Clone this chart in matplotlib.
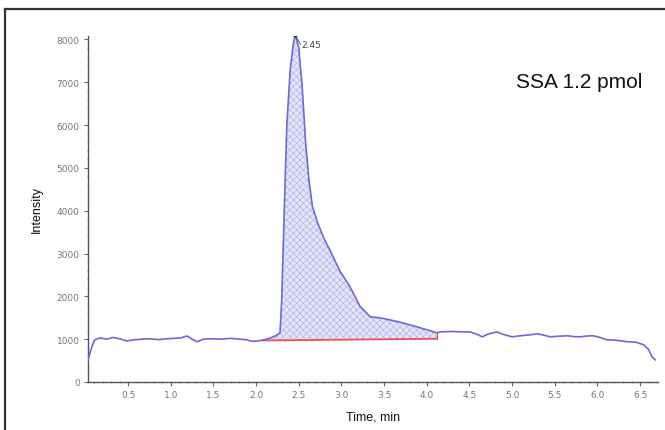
import numpy as np
import matplotlib
matplotlib.use("Agg")
import matplotlib.pyplot as plt
from matplotlib.lines import Line2D
from matplotlib.ticker import MultipleLocator, FixedLocator

# Chromatogram trace (retention time in minutes, signal intensity)
time_min = [0.03, 0.08, 0.11, 0.17, 0.25, 0.32, 0.40, 0.48, 0.55, 0.65, 0.75,
            0.85, 0.95, 1.05, 1.12, 1.19, 1.25, 1.31, 1.38, 1.48, 1.58, 1.70,
            1.80, 1.88, 1.95, 2.02, 2.08, 2.17, 2.23, 2.28, 2.30, 2.33, 2.36,
            2.40, 2.44, 2.46, 2.50, 2.54, 2.58, 2.62, 2.66, 2.72, 2.80, 2.87,
            2.98, 3.10, 3.22, 3.34, 3.45, 3.57, 3.70, 3.80, 3.90, 4.00, 4.08,
            4.12, 4.16, 4.30, 4.40, 4.51, 4.58, 4.65, 4.72, 4.82, 4.90, 5.00,
            5.10, 5.20, 5.30, 5.45, 5.55, 5.65, 5.72, 5.80, 5.88, 5.95, 6.03,
            6.11, 6.20, 6.35, 6.45, 6.54, 6.60, 6.64, 6.68]
intensity = [515, 850, 985, 1030, 1000, 1040, 1010, 960, 980, 1000, 1010,
             990, 1010, 1020, 1030, 1075, 1000, 940, 1000, 1010, 1000, 1020,
             1000, 990, 950, 960, 980, 1030, 1080, 1150, 1900, 4000, 6000,
             7300, 7950, 8100, 7800, 6900, 5600, 4700, 4100, 3720, 3330, 3060,
             2600, 2225, 1760, 1520, 1500, 1450, 1390, 1335, 1280, 1220, 1170,
             1150, 1170, 1180, 1170, 1170, 1120, 1055, 1120, 1170, 1110, 1055,
             1080, 1100, 1125, 1055, 1070, 1080, 1060, 1055, 1075, 1080, 1040,
             985, 980, 940, 930, 870, 760, 585, 515]

# Integration window and its baseline end points
base_t = [2.08, 4.12]
base_i = [970, 1010]

peak_t = 2.46
peak_i = 8100
peak_label = "2.45"

x_ticks = [0.5, 1.0, 1.5, 2.0, 2.5, 3.0, 3.5, 4.0, 4.5, 5.0, 5.5, 6.0, 6.5]
y_ticks = [0, 1000, 2000, 3000, 4000, 5000, 6000, 7000, 8000]

label_font = ["Liberation Sans", "DejaVu Sans"]
plt.rcParams["hatch.linewidth"] = 0.5

fig = plt.figure(figsize=(6.65, 4.31), dpi=100)
ax = fig.add_axes([88 / 665, 1 - 383 / 431, 570 / 665, 346 / 431])

t = np.array(time_min)
y = np.array(intensity)

# shaded peak area above the integration baseline
mask = (t >= base_t[0]) & (t <= base_t[1])
tb = t[mask]
yb = np.interp(tb, base_t, base_i)
ax.fill_between(tb, yb, y[mask], facecolor="#e6e6fa", edgecolor="#b4b4ec",
                hatch="xxxxx", linewidth=0, zorder=1)

ax.plot(t, y, color="#6a6ad8", lw=1.2, zorder=3)
ax.plot(base_t, base_i, color="#f05050", lw=1.3, zorder=2)
ax.plot([base_t[1], base_t[1]], [base_i[1], 1150], color="#c05050", lw=0.8, zorder=2)

# apex marker and retention-time label
ax.plot([peak_t], [peak_i], marker="o", ms=2.2, color="#303070", zorder=4)
ax.plot([peak_t, peak_t + 0.06], [peak_i, peak_i - 220], color="#404040", lw=0.6, zorder=4)
ax.text(peak_t + 0.07, peak_i - 230, peak_label, fontsize=6.5, color="#444444",
        ha="left", va="center")

ax.text(6.53, 7025, "SSA 1.2 pmol", fontsize=15, color="#111111",
        ha="right", va="center", family=label_font)

ax.set_xlim(0.03, 6.71)
ax.set_ylim(0, 8080)
ax.xaxis.set_major_locator(FixedLocator(x_ticks))
ax.yaxis.set_major_locator(FixedLocator(y_ticks))
ax.xaxis.set_minor_locator(MultipleLocator(0.1))
ax.yaxis.set_minor_locator(MultipleLocator(200))
ax.set_xticklabels([f"{v:.1f}" for v in x_ticks])
ax.set_yticklabels([str(v) for v in y_ticks])

for side in ("top", "right"):
    ax.spines[side].set_visible(False)
for side in ("left", "bottom"):
    ax.spines[side].set_color("#555555")
    ax.spines[side].set_linewidth(1.0)

ax.tick_params(which="major", direction="out", length=3, width=0.8,
               color="#666666", labelsize=6.5, labelcolor="#777777", pad=3)
ax.tick_params(which="minor", direction="inout", length=2, width=0.6, color="#888888")

ax.set_xlabel("Time, min", fontsize=9, color="#111111", family=label_font, labelpad=8)
ax.set_ylabel("Intensity", fontsize=9, color="#111111", family=label_font, labelpad=10)

# outer panel frame (top and left edges)
x0 = 5 / 665
y0 = 1 - 10 / 431
fig.add_artist(Line2D([x0, 1.0], [y0, y0], transform=fig.transFigure, color="#333333", lw=1.6))
fig.add_artist(Line2D([x0, x0], [y0, 0.0], transform=fig.transFigure, color="#333333", lw=1.6))

fig.savefig("out.png", dpi=100)
